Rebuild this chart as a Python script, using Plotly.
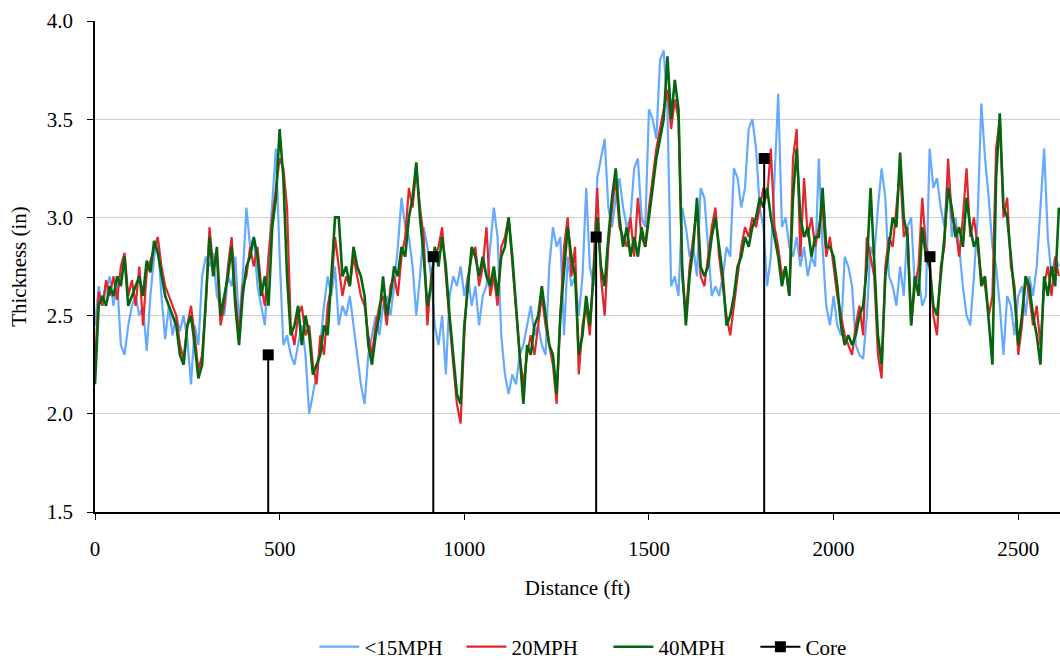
import plotly.graph_objects as go

# Distance (ft), one sample every 10 ft
distance = list(range(0, 2620, 10))

mph15 = [
    2.45, 2.65, 2.55, 2.62, 2.7, 2.55, 2.68, 2.35, 2.3, 2.45, 2.55, 2.6, 2.5, 2.55, 2.32, 2.6, 2.8, 2.88, 2.6, 2.38,
    2.55, 2.4, 2.5, 2.42, 2.5, 2.38, 2.15, 2.45, 2.35, 2.7, 2.8, 2.75, 2.82,
    2.6, 2.55, 2.5, 2.7, 2.65, 2.8, 2.45, 2.7, 3.05, 2.85, 2.9, 2.65, 2.55, 2.45, 2.8, 3.05, 3.35, 2.8, 2.35, 2.4,
    2.3, 2.25, 2.35, 2.45, 2.3, 2.0, 2.1, 2.2, 2.35, 2.55, 2.7, 2.6, 2.75,
    2.45, 2.55, 2.5, 2.6, 2.45, 2.3, 2.15, 2.05, 2.3, 2.4, 2.5, 2.4, 2.55, 2.6, 2.5, 2.65, 2.85, 3.1, 2.95, 2.9,
    2.75, 2.5, 2.7, 2.95, 2.85, 2.7, 2.45, 2.35, 2.5, 2.2, 2.6, 2.7,
    2.65, 2.75, 2.6, 2.7, 2.55, 2.65, 2.45, 2.6, 2.65, 2.85, 3.05, 2.9, 2.4, 2.2, 2.1, 2.2, 2.15, 2.3, 2.35, 2.45,
    2.55, 2.4, 2.45, 2.35, 2.3, 2.75, 2.95, 2.85, 2.9, 2.4, 2.8, 2.65, 2.7,
    2.5, 2.7, 3.15, 2.75, 2.65, 3.2, 3.3, 3.4, 3.05, 2.95, 3.1, 3.2, 3.05, 2.95, 3.0, 3.25, 3.3, 3.0, 2.95, 3.55,
    3.5, 3.4, 3.8, 3.85, 3.55, 2.65, 2.7, 2.6, 3.05, 2.95, 2.8, 2.85,
    2.7, 3.15, 3.1, 2.85, 2.6, 2.65, 2.6, 2.7, 2.85, 2.8, 3.25, 3.2, 3.05, 3.15, 3.45, 3.5, 3.35, 3.05, 2.95, 2.65,
    2.8, 3.2, 3.63, 2.95, 3.0, 2.85, 2.8, 2.9, 2.75, 2.85, 2.7, 2.8, 2.75,
    3.3, 2.85, 2.55, 2.45, 2.6, 2.45, 2.4, 2.8, 2.75, 2.65, 2.35, 2.3, 2.28, 2.5, 2.85, 2.8, 3.05, 3.25, 3.1, 2.7,
    2.65, 2.55, 2.75, 2.6, 2.95, 3.0, 2.65, 2.7, 2.55, 2.6, 3.35, 3.15,
    3.2, 3.05, 2.95, 3.25, 2.9, 3.0, 2.85, 2.65, 2.5, 2.45, 2.7, 3.0, 3.58, 3.3, 3.1, 2.85, 2.75, 2.55, 2.3, 2.6,
    2.55, 2.4, 2.6, 2.65, 2.5, 2.7, 2.6, 2.75, 3.05, 3.35, 2.9, 2.7, 2.8, 2.75,
]

mph20 = [
    2.25, 2.62, 2.55, 2.68, 2.6, 2.7, 2.58, 2.75, 2.82, 2.6, 2.68, 2.55, 2.75, 2.45, 2.72, 2.78, 2.85, 2.9, 2.75, 2.65,
    2.6, 2.55, 2.5, 2.35, 2.28, 2.45, 2.55, 2.4, 2.22, 2.3, 2.55, 2.95, 2.75,
    2.8, 2.45, 2.55, 2.75, 2.9, 2.6, 2.4, 2.65, 2.7, 2.85, 2.75, 2.85, 2.65, 2.55, 2.8, 3.0, 3.15, 3.3, 3.25, 3.05,
    2.45, 2.35, 2.5, 2.55, 2.4, 2.45, 2.25, 2.15, 2.4, 2.3, 2.55, 2.65, 2.9,
    2.75, 2.6, 2.7, 2.65, 2.8, 2.7, 2.6, 2.55, 2.4, 2.3, 2.45, 2.55, 2.6, 2.45, 2.65, 2.7, 2.6, 2.8, 2.9, 3.15,
    3.05, 3.25, 3.05, 2.9, 2.45, 2.7, 2.8, 2.85, 2.95, 2.7, 2.45, 2.25,
    2.05, 1.95, 2.4, 2.7, 2.8, 2.85, 2.65, 2.75, 2.95, 2.6, 2.7, 2.55, 2.85, 2.9, 3.0, 2.75, 2.5, 2.3, 2.15, 2.3,
    2.4, 2.3, 2.45, 2.6, 2.45, 2.35, 2.25, 2.05, 2.5, 2.85, 3.0, 2.7, 2.85,
    2.2, 2.45, 2.55, 2.4, 2.75, 3.15, 2.7, 2.5, 2.85, 3.05, 3.2, 2.95, 2.9, 2.85, 3.0, 2.8, 3.1, 2.9, 2.85, 3.05,
    3.2, 3.35, 3.45, 3.55, 3.65, 3.45, 3.6, 3.5, 2.7, 2.5, 2.75, 2.9,
    3.05, 2.7, 2.65, 2.8, 2.95, 3.05, 2.8, 2.65, 2.5, 2.4, 2.55, 2.7, 2.85, 2.95, 2.9, 3.0, 2.95, 3.05, 3.15, 3.1,
    3.35, 2.95, 2.85, 2.7, 2.75, 2.6, 3.3, 3.45, 2.8, 3.2, 2.9, 3.0, 2.85,
    2.95, 3.05, 2.8, 2.9, 2.75, 2.6, 2.5, 2.4, 2.35, 2.3, 2.45, 2.55, 2.4, 2.9, 2.8, 2.7, 2.3, 2.18, 2.75, 2.9,
    2.85, 3.05, 3.25, 2.9, 2.95, 2.45, 2.65, 2.75, 3.1, 2.85, 2.8, 2.5,
    2.4, 2.75, 2.85, 3.3, 3.0, 2.95, 2.8, 3.0, 3.25, 2.9, 3.0, 2.85, 2.7, 2.65, 2.5, 2.6, 3.35, 3.5, 3.0, 3.1,
    2.75, 2.65, 2.3, 2.45, 2.7, 2.6, 2.45, 2.55, 2.35, 2.65, 2.75, 2.6, 2.8, 2.7,
]

mph40 = [
    2.15, 2.55, 2.6, 2.55, 2.65, 2.6, 2.7, 2.65, 2.8, 2.55, 2.6, 2.65, 2.7, 2.6, 2.78, 2.72, 2.88, 2.82, 2.7, 2.6,
    2.55, 2.5, 2.45, 2.3, 2.25, 2.45, 2.5, 2.35, 2.18, 2.25, 2.6, 2.9, 2.7,
    2.85, 2.5, 2.6, 2.7, 2.85, 2.55, 2.35, 2.6, 2.75, 2.8, 2.9, 2.8, 2.6, 2.7, 2.55, 2.95, 3.1, 3.45, 3.2, 2.7,
    2.4, 2.45, 2.55, 2.35, 2.5, 2.4, 2.2, 2.25, 2.3, 2.45, 2.4, 2.7, 3.0,
    3.0, 2.7, 2.75, 2.65, 2.85, 2.75, 2.7, 2.6, 2.35, 2.25, 2.4, 2.5, 2.7, 2.5, 2.6, 2.75, 2.7, 2.85, 2.8, 3.0,
    3.1, 3.28, 3.0, 2.8, 2.55, 2.65, 2.85, 2.75, 2.9, 2.75, 2.5, 2.3,
    2.1, 2.05, 2.45, 2.65, 2.85, 2.8, 2.7, 2.8, 2.7, 2.65, 2.75, 2.6, 2.8, 2.85, 3.0, 2.8, 2.55, 2.35, 2.05, 2.35,
    2.3, 2.45, 2.5, 2.65, 2.5, 2.35, 2.3, 2.1, 2.5, 2.75, 2.95, 2.8, 2.7,
    2.3, 2.4, 2.6, 2.45, 2.7, 3.0, 2.75, 2.65, 2.9, 3.1, 3.25, 3.0, 2.85, 2.95, 2.8, 2.9, 2.8, 2.95, 2.85, 3.0,
    3.15, 3.3, 3.4, 3.5, 3.82, 3.5, 3.7, 3.55, 2.75, 2.45, 2.7, 2.85,
    3.1, 2.75, 2.7, 2.75, 2.9, 3.0, 2.85, 2.7, 2.45, 2.5, 2.6, 2.75, 2.8, 2.9, 2.85, 2.95, 3.0, 3.1, 3.05, 3.15,
    3.0, 2.9, 2.8, 2.65, 2.75, 2.6, 3.1, 3.35, 3.0, 2.9, 2.95, 2.8, 2.9,
    2.9, 3.15, 2.85, 2.85, 2.8, 2.65, 2.45, 2.35, 2.4, 2.35, 2.4, 2.5, 2.55, 2.75, 3.15, 2.75, 2.4, 2.25, 2.7, 2.85,
    3.0, 2.95, 3.33, 3.0, 2.9, 2.45, 2.7, 2.6, 2.95, 2.8, 2.75, 2.55,
    2.5, 2.7, 2.9, 3.15, 3.05, 2.9, 2.95, 2.85, 3.1, 2.95, 2.85, 2.9, 2.65, 2.7, 2.45, 2.25, 3.2, 3.53, 3.05, 3.0,
    2.8, 2.6, 2.35, 2.5, 2.7, 2.65, 2.5, 2.4, 2.25, 2.7, 2.6, 2.75, 2.65, 3.05,
]

core_x = [469, 916, 1357, 1812, 2261]
core_y = [2.3, 2.8, 2.9, 3.3, 2.8]
# lower end of each core drop line lies below the visible range, so the
# line is clipped at the axis and the lower marker is hidden
y_below = 1.0

cx, cy = [], []
for xv, yv in zip(core_x, core_y):
    cx += [xv, xv, None]
    cy += [yv, y_below, None]

FONT = "Times New Roman, Liberation Serif, serif"
FS = 21

fig = go.Figure()
fig.add_trace(go.Scatter(x=distance, y=mph15, mode="lines", name="<15MPH",
                         line=dict(color="#66AAFF", width=2.2)))
fig.add_trace(go.Scatter(x=distance, y=mph20, mode="lines", name="20MPH",
                         line=dict(color="#E3262E", width=2.2)))
fig.add_trace(go.Scatter(x=distance, y=mph40, mode="lines", name="40MPH",
                         line=dict(color="#05660F", width=2.6)))
fig.add_trace(go.Scatter(x=cx, y=cy, mode="lines+markers", name="Core",
                         line=dict(color="black", width=2),
                         marker=dict(symbol="square", size=11, color="black"),
                         cliponaxis=True, connectgaps=False))

fig.update_layout(
    width=1060, height=660,
    margin=dict(l=95, r=0, t=21, b=148, autoexpand=False),
    paper_bgcolor="white", plot_bgcolor="white",
    font=dict(family=FONT, size=FS, color="black"),
    showlegend=True,
    legend=dict(orientation="h", x=0.532, xanchor="center", y=-0.275, yanchor="middle",
                font=dict(family=FONT, size=FS), itemwidth=40, traceorder="normal",
                entrywidth=92, entrywidthmode="pixels"),
)
fig.update_xaxes(range=[0, 2613], tickvals=[0, 500, 1000, 1500, 2000, 2500],
                 showgrid=False, zeroline=False, showline=True, linecolor="black", linewidth=1.5,
                 ticks="outside", ticklen=6, tickcolor="black", ticklabelstandoff=11,
                 automargin=False,
                 title=dict(text="Distance (ft)", standoff=20, font=dict(size=FS)))
fig.update_yaxes(range=[1.5, 4.0], dtick=0.5, tick0=1.5, tickformat=".1f",
                 showgrid=True, gridcolor="#CFCFCF", gridwidth=1, zeroline=False,
                 showline=True, linecolor="black", linewidth=1.5,
                 ticks="outside", ticklen=6, tickcolor="black", ticklabelstandoff=10,
                 automargin=False,
                 title=dict(text="Thickness (in)", standoff=14, font=dict(size=FS)))

fig.write_html("out.html")
